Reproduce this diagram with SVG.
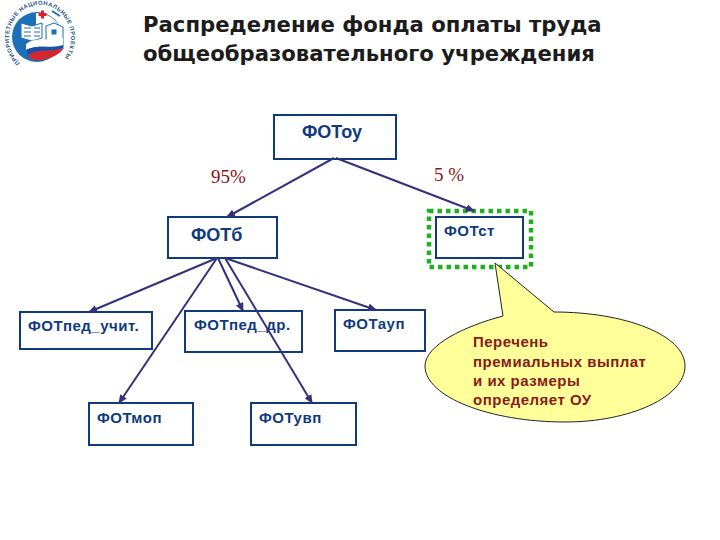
<svg xmlns="http://www.w3.org/2000/svg" width="720" height="540" viewBox="0 0 720 540">
<style>
.box{fill:#fff;stroke:#0f3a80;stroke-width:2}
.lbl{font-family:"Liberation Sans",Arial,sans-serif;font-weight:700;font-size:15px;letter-spacing:.5px;fill:#103a80}
.big{font-size:18px;letter-spacing:0}
.pct{font-family:"Liberation Serif","Times New Roman",serif;font-size:19px;fill:#8c1414}
.title{font-family:"DejaVu Sans",sans-serif;font-weight:700;font-size:21.200px;fill:#1c1c1c}
.co{fill:#8a1a1a;font-family:"Liberation Sans",Arial,sans-serif;font-weight:700;font-size:15px;letter-spacing:.5px}
.con{stroke:#33307c;stroke-width:2;fill:none;marker-end:url(#a)}
</style>
<defs>
<marker id="a" markerUnits="userSpaceOnUse" markerWidth="10" markerHeight="8" refX="8" refY="4" orient="auto"><path d="M0 0L9 4L0 8Z" fill="#33307c"/></marker>
<path id="ring" d="M20 63A31 33 0 1 1 60 63"/>
</defs>
<rect width="720" height="540" fill="#fff"/>
<g id="logo">
<circle cx="37" cy="37" r="25" fill="#1d6fb8"/>
<path d="M36 13C52 13 61 24 63 38V46H36Z" fill="#fff"/>
<path d="M52 11L60 16" stroke="#1d6fb8" stroke-width="2"/>
<path d="M21 23l11 3 10-3v15l-10 3-11-3z" fill="#fff" stroke="#1d6fb8"/>
<path d="M24 28h7M24 32h7M24 36h7M34 28h6M34 32h6M34 36h6" stroke="#1d6fb8"/>
<path d="M46 26l8-3 9 4v22H46z" fill="#fff" stroke="#1d6fb8"/>
<rect x="51.500" y="29.500" width="5" height="5" fill="#1d6fb8"/>
<path d="M38.500 13H41V10.500h3V13h2.500v3H44v2.500h-3V16h-2.500z" fill="#e02020"/>
<path d="M26 44C36 36 50 42 63 38V45C50 49 37 44 26 50Z" fill="#fff"/>
<path d="M26 50C37 44 50 49 63 45V48C50 53 38 48 28 55Z" fill="#1c4fa8"/>
<path d="M28 55C38 48 50 53 63 48C61 55 50 58 42 60C36 61 31 60 28 55Z" fill="#d9262c"/>
<text font-family="Liberation Sans,Arial,sans-serif" font-size="5.800" font-weight="700" fill="#1d4f90" letter-spacing=".5"><textPath href="#ring">ПРИОРИТЕТНЫЕ НАЦИОНАЛЬНЫЕ ПРОЕКТЫ</textPath></text>
</g>
<g id="title">
<text class="title" x="143" y="32">Распределение фонда оплаты труда</text>
<text class="title" x="143" y="61">общеобразовательного учреждения</text>
</g>
<g id="fotou"><rect class="box" x="274" y="115" width="122" height="44"/><text class="lbl big" x="302" y="138">ФОТоу</text></g>
<g id="fotb"><rect class="box" x="168" y="217" width="109" height="41"/><text class="lbl big" x="191" y="241">ФОТб</text></g>
<g id="fotst"><rect x="429" y="211" width="102" height="56" fill="none" stroke="#1fb01f" stroke-width="4.500" stroke-dasharray="4.500 4"/><rect class="box" x="436" y="217" width="87" height="41"/><text class="lbl" x="444" y="236">ФОТст</text></g>
<g id="fotped-uchit"><rect class="box" x="20" y="312" width="132" height="37"/><text class="lbl" x="28" y="331">ФОТпед_учит.</text></g>
<g id="fotped-dr"><rect class="box" x="185" y="311" width="117" height="41"/><text class="lbl" x="194" y="330">ФОТпед_др.</text></g>
<g id="fotaup"><rect class="box" x="335" y="310" width="90" height="41"/><text class="lbl" x="343" y="329">ФОТауп</text></g>
<g id="fotmop"><rect class="box" x="89" y="403" width="104" height="42"/><text class="lbl" x="97" y="423">ФОТмоп</text></g>
<g id="fotuvp"><rect class="box" x="251" y="403" width="105" height="42"/><text class="lbl" x="259" y="423">ФОТувп</text></g>
<g id="connectors">
<path class="con" d="M334 158L227 217"/>
<path class="con" d="M336 158L474 211"/>
<path class="con" d="M217 258L89 312"/>
<path class="con" d="M217 258L119 403"/>
<path class="con" d="M218 258L243 311"/>
<path class="con" d="M225 258L312 403"/>
<path class="con" d="M225 258L376 310"/>
</g>
<text class="pct" x="211" y="183">95%</text>
<text class="pct" x="434" y="181">5 %</text>
<g id="callout">
<path d="M495 263L503 316C465 326 425 345 425 366C425 397 490 422 565 422C630 422 685 397 685 366C685 335 625 312 554 312Z" fill="#ffff99" stroke="#222" stroke-width="1"/>
<text class="co" x="473" y="347">Перечень</text>
<text class="co" x="473" y="367">премиальных выплат</text>
<text class="co" x="473" y="386">и их размеры</text>
<text class="co" x="473" y="405">определяет ОУ</text>
</g>
</svg>
